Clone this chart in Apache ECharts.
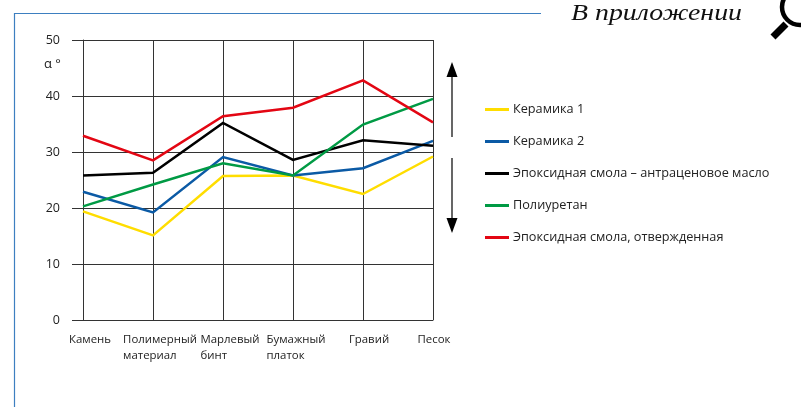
<!DOCTYPE html>
<html><head><meta charset="utf-8">
<style>html,body{margin:0;padding:0;background:#fff}#c{width:801px;height:407px}</style>
<script src="https://cdn.jsdelivr.net/npm/echarts@6/dist/echarts.min.js"></script>
</head><body><div id="c"></div>
<script>
const categories = ['Камень','Полимерный\nматериал','Марлевый\nбинт','Бумажный\nплаток','Гравий','Песок'];
const labelShift = [14, 14, 14, 6, 12, 2];
const ceramic1 = [19.4,15.1,25.7,25.8,22.5,29.2];
const ceramic2 = [22.9,19.2,29.1,25.8,27.1,32.0];
const epoxyOil = [25.8,26.3,35.2,28.6,32.1,31.1];
const polyurethane = [20.3,24.2,28.0,25.8,34.9,39.5];
const epoxyCured = [32.9,28.5,36.4,37.9,42.8,35.3];
const names = ['Керамика 1','Керамика 2','Эпоксидная смола – антраценовое масло','Полиуретан','Эпоксидная смола, отвержденная'];
const colors = ['#ffdd00','#0b5aa5','#000000','#009a44','#e30613'];
const values = [ceramic1,ceramic2,epoxyOil,polyurethane,epoxyCured];
const font = '"Open Sans"';
const chart = echarts.init(document.getElementById('c'),null,{renderer:'canvas'});
const line=(x1,y1,x2,y2,stroke,w)=>({type:'line',silent:true,shape:{x1,y1,x2,y2},style:{stroke,lineWidth:w}});
chart.setOption({
  animation:false,
  backgroundColor:'#fff',
  grid:{left:83,right:368,top:40,bottom:87,containLabel:false},
  legend:{orient:'vertical',left:485,top:103,padding:0,itemWidth:24,itemHeight:3,itemGap:19,icon:'rect',
    data:names,textStyle:{fontFamily:font,fontSize:12.7,color:'#222',padding:[0,0,0,-1]}},
  xAxis:{type:'category',boundaryGap:false,
    data:categories.map((value,i)=>({value,textStyle:{padding:[0,0,0,labelShift[i]]}})),
    axisLine:{lineStyle:{color:'#333',width:1}},axisTick:{show:false},
    splitLine:{show:true,lineStyle:{color:'#333',width:1}},
    axisLabel:{interval:0,margin:12,fontFamily:font,fontSize:11.4,color:'#222',lineHeight:16,
      formatter:v=>v.split('\n').map(s=>'{a|'+s+'}').join('\n'),
      rich:{a:{align:'left',fontFamily:font,fontSize:11.4,color:'#222',lineHeight:16}}}},
  yAxis:{type:'value',min:0,max:50,interval:10,
    axisLine:{show:true,lineStyle:{color:'#333',width:1}},
    axisTick:{show:true,length:11,lineStyle:{color:'#333',width:1}},
    splitLine:{show:true,lineStyle:{color:'#333',width:1}},
    axisLabel:{margin:23,fontFamily:font,fontSize:12.5,color:'#222'}},
  series:names.map((name,i)=>({name,type:'line',data:values[i],symbol:'none',
    lineStyle:{color:colors[i],width:2.5,join:'miter'},itemStyle:{color:colors[i]},z:3+i})),
  graphic:[
    line(14.5,13,14.5,407,'#3d7fc0',1.2),
    line(14,13.5,541,13.5,'#3d7fc0',1.2),
    {type:'text',silent:true,left:44,top:58,style:{text:'α °',font:'13px '+font,fill:'#222'}},
    {type:'text',silent:true,x:571,y:2,scaleX:1.16,style:{text:'В приложении',font:'italic 24px "Liberation Serif"',fill:'#111'}},
    line(452,137,452,72,'#000',1.2),
    {type:'polygon',silent:true,shape:{points:[[452,62],[457.5,77],[446.5,77]]},style:{fill:'#000'}},
    line(452,158,452,220,'#000',1.2),
    {type:'polygon',silent:true,shape:{points:[[452,233],[457.5,218],[446.5,218]]},style:{fill:'#000'}},
    {type:'circle',silent:true,shape:{cx:800,cy:7,r:18},style:{fill:'none',stroke:'#000',lineWidth:4.5}},
    line(786,24,773,37,'#000',7)
  ]
});
</script></body></html>
